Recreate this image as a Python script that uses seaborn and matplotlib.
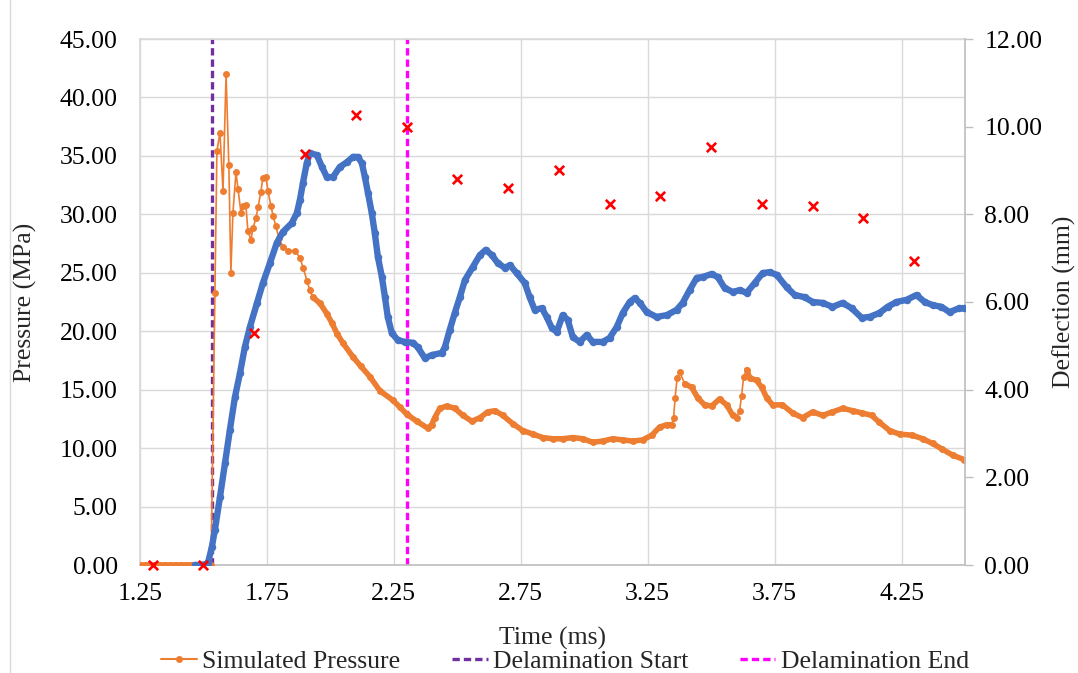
import numpy as np
import pandas as pd
import matplotlib.pyplot as plt
from matplotlib.lines import Line2D
from matplotlib.ticker import FormatStrFormatter
import seaborn as sns

# simulated pressure (MPa) vs time (ms)
p_time = [1.25, 1.27, 1.29, 1.31, 1.33, 1.35, 1.37, 1.39, 1.41, 1.43, 1.45, 1.47, 1.49, 1.51, 1.53,
          1.545, 1.553, 1.565, 1.577, 1.589, 1.600, 1.608, 1.616, 1.628, 1.636, 1.648, 1.656, 1.667,
          1.675, 1.687, 1.695, 1.707, 1.715, 1.726, 1.734, 1.746, 1.754, 1.766, 1.774, 1.785, 1.797,
          1.813, 1.833, 1.860, 1.880, 1.893, 1.908, 1.919, 1.931, 1.959, 1.986, 2.006, 2.026, 2.049,
          2.089, 2.120, 2.156, 2.195, 2.246, 2.274, 2.301, 2.340, 2.384, 2.399, 2.411, 2.431, 2.459,
          2.490, 2.522, 2.557, 2.589, 2.620, 2.648, 2.679, 2.718, 2.758, 2.797, 2.837, 2.876, 2.915,
          2.955, 2.994, 3.033, 3.073, 3.112, 3.152, 3.191, 3.230, 3.266, 3.297, 3.325, 3.344, 3.352,
          3.358, 3.366, 3.376, 3.396, 3.423, 3.447, 3.474, 3.502, 3.533, 3.561, 3.585, 3.600, 3.612,
          3.620, 3.628, 3.640, 3.652, 3.679, 3.699, 3.719, 3.742, 3.781, 3.821, 3.860, 3.900, 3.939,
          3.978, 4.018, 4.057, 4.096, 4.132, 4.163, 4.203, 4.242, 4.293, 4.333, 4.372, 4.411, 4.451,
          4.498]
p_value = [0, 0, 0, 0, 0, 0, 0, 0, 0, 0, 0, 0, 0, 0, 0,
           23.3, 35.4, 37.0, 32.0, 42.0, 34.2, 25.0, 30.1, 33.6, 32.2, 30.1, 30.7, 30.8,
           28.6, 27.8, 28.8, 29.7, 30.6, 31.9, 33.1, 33.2, 32.0, 30.7, 29.9, 29.0, 28.0,
           27.2, 26.9, 26.9, 26.3, 25.4, 24.3, 23.5, 22.9, 22.4, 21.5, 20.7, 19.8, 19.0,
           17.8, 17.0, 16.1, 14.9, 14.1, 13.5, 12.9, 12.3, 11.7, 12.0, 12.6, 13.4, 13.6,
           13.4, 12.8, 12.3, 12.6, 13.1, 13.2, 12.8, 12.1, 11.5, 11.2, 10.9, 10.8, 10.8,
           10.9, 10.8, 10.5, 10.6, 10.8, 10.7, 10.6, 10.7, 11.1, 11.8, 12.0, 12.0, 12.6,
           14.3, 16.0, 16.5, 15.5, 15.2, 14.3, 13.7, 13.6, 14.2, 13.7, 12.8, 12.6, 13.2,
           14.5, 16.1, 16.7, 16.0, 15.8, 15.2, 14.3, 13.7, 13.7, 13.0, 12.6, 13.1, 12.8,
           13.1, 13.4, 13.2, 13.0, 12.8, 12.2, 11.5, 11.2, 11.1, 10.8, 10.4, 9.9, 9.4,
           9.0]

# simulated deflection (mm), secondary axis
d_time = [1.467, 1.49, 1.51, 1.518, 1.533, 1.545, 1.565, 1.585, 1.604, 1.624, 1.644, 1.663, 1.683,
          1.711, 1.734, 1.762, 1.789, 1.813, 1.848, 1.868, 1.880, 1.892, 1.907, 1.919, 1.947, 1.967,
          1.986, 2.010, 2.037, 2.065, 2.089, 2.108, 2.124, 2.136, 2.148, 2.163, 2.175, 2.187, 2.203,
          2.215, 2.226, 2.242, 2.266, 2.293, 2.325, 2.344, 2.372, 2.400, 2.439, 2.451, 2.470, 2.490,
          2.510, 2.530, 2.561, 2.589, 2.612, 2.636, 2.659, 2.687, 2.707, 2.734, 2.766, 2.785, 2.805,
          2.833, 2.852, 2.872, 2.892, 2.915, 2.935, 2.955, 2.982, 3.010, 3.033, 3.073, 3.100, 3.128,
          3.152, 3.179, 3.199, 3.219, 3.246, 3.285, 3.325, 3.364, 3.388, 3.415, 3.443, 3.467, 3.502,
          3.526, 3.553, 3.585, 3.612, 3.640, 3.671, 3.703, 3.730, 3.758, 3.797, 3.829, 3.868, 3.900,
          3.939, 3.978, 4.018, 4.053, 4.093, 4.124, 4.163, 4.195, 4.230, 4.270, 4.309, 4.341, 4.372,
          4.407, 4.439, 4.478, 4.498]
d_value = [0.00, 0.00, 0.02, 0.05, 0.41, 0.80, 1.55, 2.33, 3.08, 3.83, 4.38, 4.97, 5.43,
           5.98, 6.43, 6.89, 7.35, 7.60, 7.80, 8.03, 8.33, 8.72, 9.17, 9.40, 9.35, 9.08,
           8.85, 8.85, 9.08, 9.19, 9.31, 9.31, 9.17, 8.85, 8.49, 8.03, 7.57, 7.03, 6.57,
           6.11, 5.66, 5.29, 5.13, 5.09, 5.07, 4.97, 4.72, 4.79, 4.84, 4.97, 5.36, 5.75,
           6.11, 6.50, 6.80, 7.07, 7.19, 7.07, 6.89, 6.78, 6.84, 6.66, 6.43, 6.11, 5.82,
           5.86, 5.66, 5.41, 5.32, 5.70, 5.59, 5.20, 5.09, 5.25, 5.09, 5.09, 5.18, 5.43,
           5.75, 6.00, 6.09, 5.98, 5.77, 5.66, 5.70, 5.82, 5.98, 6.27, 6.55, 6.57, 6.64,
           6.57, 6.32, 6.23, 6.27, 6.21, 6.43, 6.66, 6.68, 6.62, 6.34, 6.16, 6.11, 6.00,
           5.98, 5.89, 5.98, 5.86, 5.64, 5.66, 5.75, 5.89, 6.00, 6.05, 6.16, 6.00, 5.93,
           5.89, 5.77, 5.86, 5.86]

# measured deflection (mm)
m_time = [1.3, 1.5, 1.7, 1.9, 2.1, 2.3, 2.5, 2.7, 2.9, 3.1, 3.3, 3.5, 3.7, 3.9, 4.1, 4.3]
m_value = [0.00, 0.00, 5.29, 9.38, 10.27, 9.99, 8.81, 8.60, 9.01, 8.24, 8.42, 9.54, 8.24, 8.19, 7.92, 6.94]

delam_start = 1.535
delam_end = 2.30

ORANGE = "#ED7D31"
BLUE = "#4472C4"
PURPLE = "#7030A0"
MAGENTA = "#FF00FF"
GRID = "#D9D9D9"
AXIS = "#BFBFBF"

sns.set_theme(style="white")
plt.rcParams['font.family'] = ['Liberation Serif', 'DejaVu Serif']
FS = 18.5

pres = pd.DataFrame({"t": p_time, "p": p_value})
defl = pd.DataFrame({"t": d_time, "d": d_value})
meas = pd.DataFrame({"t": m_time, "d": m_value})

fig = plt.figure(figsize=(10.78, 6.73), dpi=100)
ax = fig.add_subplot(111)
fig.subplots_adjust(left=140 / 1078, right=965 / 1078, top=1 - 39 / 673, bottom=1 - 565 / 673)

# dense parts of the pressure trace look like a solid band of markers
base = pres["p"].where(pres["t"] <= 1.53)
band = pres["p"].where((pres["t"] > 1.92) & ~pres["t"].between(3.345, 3.378)
                       & ~pres["t"].between(3.61, 3.635))
ax.plot(pres["t"], base, color=ORANGE, lw=4.0, solid_capstyle="round", zorder=3)
ax.plot(pres["t"], band, color=ORANGE, lw=4.0, solid_capstyle="round", zorder=3)
sns.lineplot(data=pres, x="t", y="p", ax=ax, color=ORANGE, lw=1.2, marker="o",
             markersize=5.0, markeredgecolor=ORANGE, markeredgewidth=0,
             sort=False, estimator=None, zorder=3, label="Simulated Pressure")

ax.axvline(delam_start, color=PURPLE, lw=2.4, ls=(0, (2.2, 1.2)), zorder=2.5)
ax.axvline(delam_end, color=MAGENTA, lw=2.4, ls=(0, (2.2, 1.2)), zorder=2.5)

ax.set_xlim(1.25, 4.5)
ax.set_ylim(0, 45)
ax.set_xticks(np.arange(1.25, 4.26, 0.5))
ax.set_yticks(np.arange(0, 45.1, 5))
ax.xaxis.set_major_formatter(FormatStrFormatter('%.2f'))
ax.yaxis.set_major_formatter(FormatStrFormatter('%.2f'))
ax.grid(True, color=GRID, lw=1.0)
ax.set_axisbelow(True)
ax.tick_params(axis="both", length=0, labelsize=FS, colors="black")
ax.tick_params(axis="y", pad=16)
ax.tick_params(axis="x", pad=13)
for side in ["left", "top"]:
    ax.spines[side].set_color(GRID)
ax.spines["bottom"].set_color(AXIS)
ax.spines["right"].set_visible(False)
ax.set_xlabel("Time (ms)", fontsize=FS)
ax.set_ylabel("Pressure (MPa)", fontsize=FS)
ax.xaxis.set_label_coords(0.5, -0.118)
ax.yaxis.set_label_coords(-0.125, 0.5)
ax.get_legend().remove()

ax2 = ax.twinx()
ax2.plot(defl["t"], defl["d"], color=BLUE, lw=4.6, solid_capstyle="round", zorder=3)
sns.lineplot(data=defl, x="t", y="d", ax=ax2, color=BLUE, lw=1.2, marker="o",
             markersize=5.4, markeredgecolor=BLUE, markeredgewidth=0,
             sort=False, estimator=None, zorder=3)
sns.scatterplot(data=meas, x="t", y="d", ax=ax2, marker="x", color="#FF0000", s=45,
                linewidth=1.9, zorder=4, clip_on=False)
ax2.set_ylim(0, 12)
ax2.set_yticks(np.arange(0, 12.1, 2))
ax2.yaxis.set_major_formatter(FormatStrFormatter('%.2f'))
ax2.tick_params(axis="y", length=6, width=1, color=AXIS, pad=8, labelsize=FS, colors="black")
ax2.tick_params(axis="y", color=AXIS)
ax2.grid(False)
for side in ["left", "top", "bottom"]:
    ax2.spines[side].set_visible(False)
ax2.spines["right"].set_color(AXIS)
ax2.set_ylabel("Deflection (mm)", fontsize=FS)
ax2.yaxis.set_label_coords(1.106, 0.5)
ax2.set_xlabel("")

handles = [
    Line2D([], [], color=ORANGE, lw=1.5, marker="o", markersize=5.0, markeredgewidth=0),
    Line2D([], [], color=PURPLE, lw=2.4, ls=(0, (2.2, 1.2))),
    Line2D([], [], color=MAGENTA, lw=2.4, ls=(0, (2.2, 1.2))),
]
fig.legend(handles, ["Simulated Pressure", "Delamination Start", "Delamination End"],
           loc="center", bbox_to_anchor=(0.524, 0.017), ncol=3, frameon=False,
           fontsize=FS, handlelength=1.4, handletextpad=0.2, columnspacing=2.0,
           borderpad=0, borderaxespad=0)

# light chart-area border
fig.add_artist(Line2D([10 / 1078, 10 / 1078], [0, 1], transform=fig.transFigure,
                      color=GRID, lw=1.0))

fig.savefig("out.png", dpi=100)
